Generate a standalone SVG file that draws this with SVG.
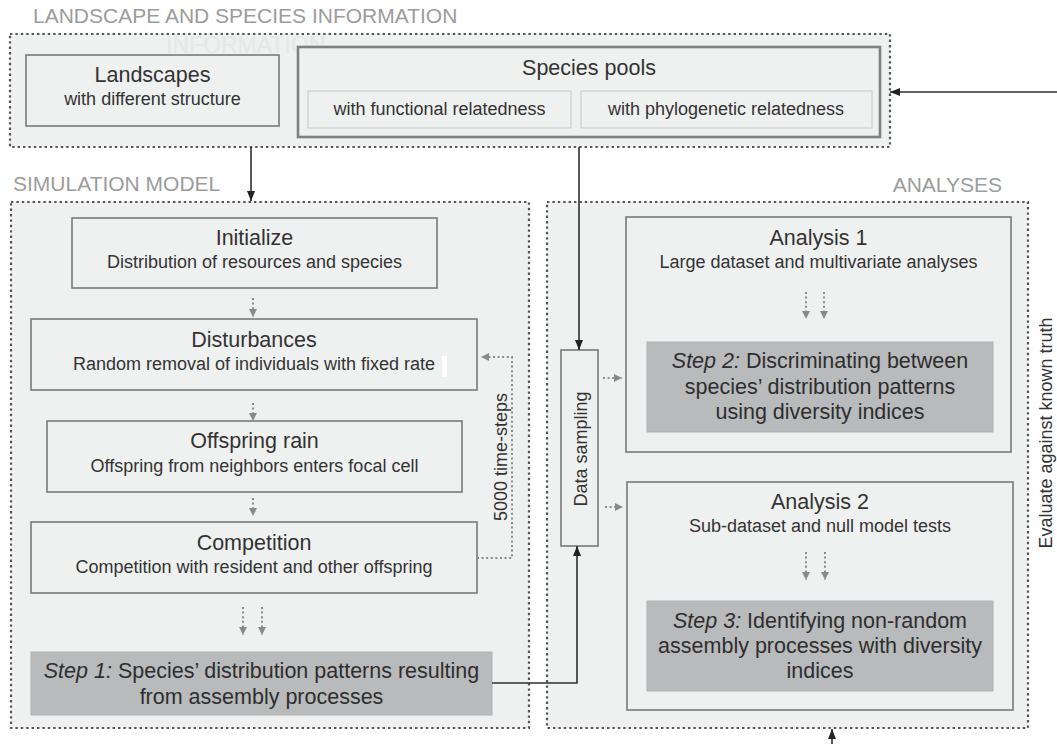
<svg xmlns="http://www.w3.org/2000/svg" width="1057" height="744" viewBox="0 0 1057 744">
<defs>
<style>
text{font-family:"Liberation Sans",Arial,sans-serif;fill:#333}
.sec{font-size:21px;fill:#9c9c9c}
.ghost{font-size:23px;fill:#e6e7e7}
.t{font-size:21.5px;text-anchor:middle}
.s{font-size:18px;text-anchor:middle}
.st{font-size:21.5px;text-anchor:middle;fill:#2e2e2e}
.cont{fill:#eff0f0;stroke:#555555;stroke-width:2.2;stroke-dasharray:2.4 3}
.box{fill:#eff0f0;stroke:#7a7a7a;stroke-width:1.6}
.pool{fill:#eff0f0;stroke:#808080;stroke-width:2.6}
.inner{fill:#eff0f0;stroke:#cdcdcd;stroke-width:1.2}
.step{fill:#b9babc;stroke:#b0b1b3;stroke-width:1}
.solid{fill:none;stroke:#2f2f2f;stroke-width:1.6}
.dot{fill:none;stroke:#8a8a8a;stroke-width:2;stroke-dasharray:2 2.6}
</style>
<marker id="ah" markerUnits="userSpaceOnUse" markerWidth="10" markerHeight="10" viewBox="0 0 10 10" refX="10" refY="5" orient="auto">
<path d="M0,1 L10,5 L0,9 z" fill="#222"/>
</marker>
<marker id="gh" markerUnits="userSpaceOnUse" markerWidth="8" markerHeight="8" viewBox="0 0 10 10" refX="10" refY="5" orient="auto">
<path d="M0,0 L10,5 L0,10 z" fill="#8a8a8a"/>
</marker>
</defs>
<rect width="1057" height="744" fill="#ffffff"/>

<!-- section labels -->
<text class="sec" x="33" y="23">LANDSCAPE AND SPECIES INFORMATION</text>
<text class="sec" x="13" y="191">SIMULATION MODEL</text>
<text class="sec" x="1002" y="192" text-anchor="end">ANALYSES</text>

<!-- containers -->
<g id="landscape-species-information">
<rect class="cont" x="10" y="34" width="880" height="113"/>
<text class="ghost" x="166" y="53">INFORMATION</text>
</g>
<g id="simulation-model">
<rect class="cont" x="11" y="202" width="518" height="526"/>
</g>
<g id="analyses">
<rect class="cont" x="547" y="202" width="481" height="526"/>
</g>

<!-- nodes -->
<g id="landscapes">
<rect class="box" x="26" y="55" width="253" height="71"/>
<text class="t" x="152.5" y="82">Landscapes</text>
<text class="s" x="152.5" y="105">with different structure</text>
</g>
<g id="species-pools">
<rect class="pool" x="298" y="47" width="582" height="90"/>
<text class="t" x="589" y="75">Species pools</text>
<g id="functional">
<rect class="inner" x="308" y="91" width="263" height="37"/>
<text class="s" x="439.5" y="115">with functional relatedness</text>
</g>
<g id="phylogenetic">
<rect class="inner" x="581" y="91" width="291" height="37"/>
<text class="s" x="726" y="115">with phylogenetic relatedness</text>
</g>
</g>

<g id="initialize">
<rect class="box" x="72" y="218" width="365" height="70"/>
<text class="t" x="254.5" y="245">Initialize</text>
<text class="s" x="254.5" y="268">Distribution of resources and species</text>
</g>
<g id="disturbances">
<rect class="box" x="31" y="319" width="446" height="71"/>
<text class="t" x="254" y="347">Disturbances</text>
<text class="s" x="254" y="370">Random removal of individuals with fixed rate</text>
<rect x="442" y="356" width="5" height="21" fill="#ffffff"/>
</g>
<g id="offspring-rain">
<rect class="box" x="47" y="421" width="415" height="71"/>
<text class="t" x="254.5" y="448">Offspring rain</text>
<text class="s" x="254.5" y="472">Offspring from neighbors enters focal cell</text>
</g>
<g id="competition">
<rect class="box" x="31" y="522" width="446" height="71"/>
<text class="t" x="254" y="550">Competition</text>
<text class="s" x="254" y="573">Competition with resident and other offspring</text>
</g>
<g id="step1">
<rect class="step" x="31" y="652" width="461" height="63"/>
<text class="st" x="261.5" y="678"><tspan font-style="italic">Step 1:</tspan> Species’ distribution patterns resulting</text>
<text class="st" x="261.5" y="704">from assembly processes</text>
</g>

<g id="data-sampling">
<rect class="box" x="561" y="350" width="37" height="196"/>
<text class="s" transform="translate(587 449) rotate(-90)" x="0" y="0">Data sampling</text>
</g>

<g id="analysis1">
<rect class="box" x="626" y="217" width="385" height="235"/>
<text class="t" x="818.5" y="245">Analysis 1</text>
<text class="s" x="818.5" y="268">Large dataset and multivariate analyses</text>
</g>
<g id="step2">
<rect class="step" x="647" y="342" width="346" height="90"/>
<text class="st" x="820" y="368"><tspan font-style="italic">Step 2:</tspan> Discriminating between</text>
<text class="st" x="820" y="394">species’ distribution patterns</text>
<text class="st" x="820" y="419">using diversity indices</text>
</g>
<g id="analysis2">
<rect class="box" x="627" y="482" width="386" height="228"/>
<text class="t" x="820" y="509">Analysis 2</text>
<text class="s" x="820" y="532">Sub-dataset and null model tests</text>
</g>
<g id="step3">
<rect class="step" x="647" y="601" width="346" height="90"/>
<text class="st" x="820" y="628"><tspan font-style="italic">Step 3:</tspan> Identifying non-random</text>
<text class="st" x="820" y="653">assembly processes with diversity</text>
<text class="st" x="820" y="678">indices</text>
</g>

<g id="evaluate-label">
<text class="s" transform="translate(1052 433) rotate(-90)" x="0" y="0">Evaluate against known truth</text>
</g>
<g id="loop-label">
<text class="s" transform="translate(507 457) rotate(-90)" x="0" y="0">5000 time-steps</text>
</g>

<!-- connectors -->
<g id="connectors">
<path class="solid" d="M251,147 V201" marker-end="url(#ah)"/>
<path class="solid" d="M579,147 V350" marker-end="url(#ah)"/>
<path class="solid" d="M492,683 H577 V546" marker-end="url(#ah)"/>
<path class="solid" d="M1057,92 H890" marker-end="url(#ah)"/>
<path class="solid" d="M832,744 V729" marker-end="url(#ah)"/>

<path class="dot" d="M253,298 V317" marker-end="url(#gh)"/>
<path class="dot" d="M253,403 V421" marker-end="url(#gh)"/>
<path class="dot" d="M253,498 V516" marker-end="url(#gh)"/>
<path class="dot" d="M243,607 V635" marker-end="url(#gh)"/>
<path class="dot" d="M262,607 V635" marker-end="url(#gh)"/>
<path class="dot" d="M477,558 H512 V357 H481" marker-end="url(#gh)"/>
<path class="dot" d="M603,378 H622" marker-end="url(#gh)"/>
<path class="dot" d="M605,507 H623" marker-end="url(#gh)"/>
<path class="dot" d="M806,292 V319" marker-end="url(#gh)"/>
<path class="dot" d="M824,292 V319" marker-end="url(#gh)"/>
<path class="dot" d="M806,552 V580" marker-end="url(#gh)"/>
<path class="dot" d="M825,552 V580" marker-end="url(#gh)"/>
</g>
</svg>
